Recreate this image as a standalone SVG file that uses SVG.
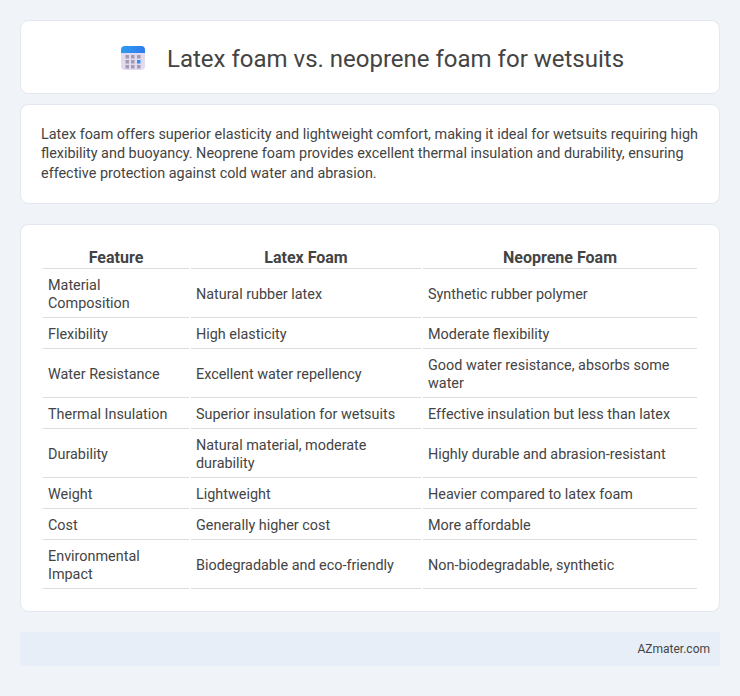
<svg xmlns="http://www.w3.org/2000/svg" width="740" height="696" viewBox="0 0 740 696">
<defs>
<linearGradient id="top" x1="0" y1="0" x2="1" y2="0"><stop offset="0" stop-color="#2f9bf0"/><stop offset="1" stop-color="#2f7bee"/></linearGradient>
</defs>
<style>
text{font-family:Roboto,"Liberation Sans",sans-serif;fill:#444}
.card{fill:#fff;stroke:#e3e7ef;stroke-width:1}
.h{font-size:16px;font-weight:700;text-anchor:middle}
.c{font-size:14.4px}
.p{font-size:14.4px}
.l{fill:#ddd}
</style>
<rect width="740" height="696" fill="#f0f3f8"/>
<g id="title">
<rect class="card" x="20.5" y="20.5" width="699" height="73" rx="8"/>
<g id="icon">
<rect x="121" y="46" width="24" height="24" rx="4" fill="#e2daee"/>
<path d="M121 53V50a4 4 0 0 1 4-4h16a4 4 0 0 1 4 4v3z" fill="url(#top)"/>
<g fill="#a39bb0"><rect x="125.500" y="55" width="3.500" height="3.500"/><rect x="131" y="55" width="3.500" height="3.500"/><rect x="137" y="55" width="3.500" height="3.500"/><rect x="125.500" y="60" width="3.500" height="3.500"/><rect x="131" y="60" width="3.500" height="3.500"/><rect x="125.500" y="65" width="3.500" height="3.500"/><rect x="131" y="65" width="3.500" height="3.500"/><rect x="137" y="65" width="3.500" height="3.500"/></g>
<rect x="137" y="60" width="3.500" height="3.500" fill="#2f8ff0"/>
</g>
<text x="167" y="67" font-size="24" style="fill:#444">Latex foam vs. neoprene foam for wetsuits</text>
</g>
<g id="intro">
<rect class="card" x="20.500" y="104.500" width="699" height="99" rx="8"/>
<text class="p" x="41" y="139">Latex foam offers superior elasticity and lightweight comfort, making it ideal for wetsuits requiring high</text>
<text class="p" x="41" y="158">flexibility and buoyancy. Neoprene foam provides excellent thermal insulation and durability, ensuring</text>
<text class="p" x="41" y="178">effective protection against cold water and abrasion.</text>
</g>
<g id="table">
<rect class="card" x="20.500" y="224.500" width="699" height="387" rx="8"/>
<text class="h" x="116" y="263">Feature</text>
<text class="h" x="306" y="263">Latex Foam</text>
<text class="h" x="560" y="263">Neoprene Foam</text>
<g id="rules">
<rect class="l" x="43" y="268" width="146" height="1"/><rect class="l" x="191" y="268" width="230" height="1"/><rect class="l" x="423" y="268" width="274" height="1"/>
<rect class="l" x="43" y="317" width="146" height="1"/><rect class="l" x="191" y="317" width="230" height="1"/><rect class="l" x="423" y="317" width="274" height="1"/>
<rect class="l" x="43" y="348" width="146" height="1"/><rect class="l" x="191" y="348" width="230" height="1"/><rect class="l" x="423" y="348" width="274" height="1"/>
<rect class="l" x="43" y="397" width="146" height="1"/><rect class="l" x="191" y="397" width="230" height="1"/><rect class="l" x="423" y="397" width="274" height="1"/>
<rect class="l" x="43" y="428" width="146" height="1"/><rect class="l" x="191" y="428" width="230" height="1"/><rect class="l" x="423" y="428" width="274" height="1"/>
<rect class="l" x="43" y="477" width="146" height="1"/><rect class="l" x="191" y="477" width="230" height="1"/><rect class="l" x="423" y="477" width="274" height="1"/>
<rect class="l" x="43" y="508" width="146" height="1"/><rect class="l" x="191" y="508" width="230" height="1"/><rect class="l" x="423" y="508" width="274" height="1"/>
<rect class="l" x="43" y="539" width="146" height="1"/><rect class="l" x="191" y="539" width="230" height="1"/><rect class="l" x="423" y="539" width="274" height="1"/>
<rect class="l" x="43" y="588" width="146" height="1"/><rect class="l" x="191" y="588" width="230" height="1"/><rect class="l" x="423" y="588" width="274" height="1"/>
</g>
<text class="c" x="48" y="290">Material</text><text class="c" x="48" y="308">Composition</text>
<text class="c" x="196" y="299">Natural rubber latex</text><text class="c" x="428" y="299">Synthetic rubber polymer</text>
<text class="c" x="48" y="339">Flexibility</text><text class="c" x="196" y="339">High elasticity</text><text class="c" x="428" y="339">Moderate flexibility</text>
<text class="c" x="48" y="379">Water Resistance</text><text class="c" x="196" y="379">Excellent water repellency</text>
<text class="c" x="428" y="370">Good water resistance, absorbs some</text><text class="c" x="428" y="388">water</text>
<text class="c" x="48" y="419">Thermal Insulation</text><text class="c" x="196" y="419">Superior insulation for wetsuits</text><text class="c" x="428" y="419">Effective insulation but less than latex</text>
<text class="c" x="48" y="459">Durability</text>
<text class="c" x="196" y="450">Natural material, moderate</text><text class="c" x="196" y="468">durability</text>
<text class="c" x="428" y="459">Highly durable and abrasion-resistant</text>
<text class="c" x="48" y="499">Weight</text><text class="c" x="196" y="499">Lightweight</text><text class="c" x="428" y="499">Heavier compared to latex foam</text>
<text class="c" x="48" y="530">Cost</text><text class="c" x="196" y="530">Generally higher cost</text><text class="c" x="428" y="530">More affordable</text>
<text class="c" x="48" y="561">Environmental</text><text class="c" x="48" y="579">Impact</text>
<text class="c" x="196" y="570">Biodegradable and eco-friendly</text><text class="c" x="428" y="570">Non-biodegradable, synthetic</text>
</g>
<g id="footer">
<rect x="20" y="632" width="700" height="34" fill="#e8eef8"/>
<text x="710" y="653" font-size="12" text-anchor="end">AZmater.com</text>
</g>
</svg>
